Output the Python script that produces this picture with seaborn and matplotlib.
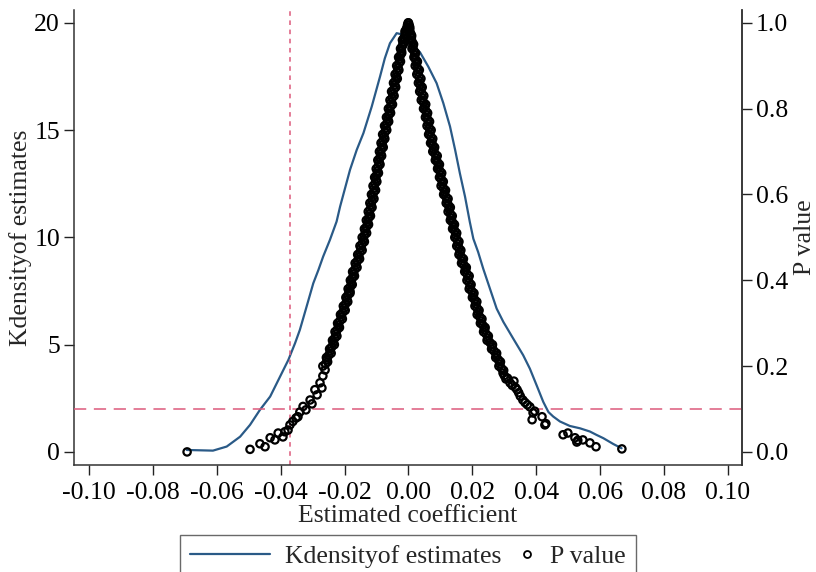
import matplotlib
matplotlib.use("Agg")
import matplotlib.pyplot as plt
import seaborn as sns
import pandas as pd
from matplotlib.lines import Line2D
from matplotlib.legend_handler import HandlerLine2D

# kernel density of the placebo estimates
kde_x = [-0.0694, -0.0612, -0.0569, -0.0527, -0.0496, -0.0465, -0.0433, -0.0402,
         -0.0376, -0.0355, -0.0340, -0.0319, -0.0298, -0.0282, -0.0267, -0.0246,
         -0.0225, -0.0214, -0.0183, -0.0162, -0.0141, -0.0115, -0.0089, -0.0074,
         -0.0058, -0.0037, -0.0017, 0.0014, 0.0036, 0.0062, 0.0088, 0.0109,
         0.0130, 0.0146, 0.0161, 0.0177, 0.0192, 0.0203, 0.0218, 0.0234,
         0.0255, 0.0276, 0.0297, 0.0328, 0.0359, 0.0380, 0.0401, 0.0422,
         0.0438, 0.0453, 0.0474, 0.0505, 0.0537, 0.0568, 0.0589, 0.0610,
         0.0641, 0.0667]
kde_y = [0.09, 0.06, 0.25, 0.71, 1.26, 1.96, 2.58, 3.51,
         4.29, 5.07, 5.69, 6.77, 7.86, 8.48, 9.11, 9.88,
         10.74, 11.44, 13.15, 14.08, 14.86, 16.10, 17.50, 18.35,
         19.05, 19.52, 19.45, 18.95, 18.63, 17.96, 17.19, 16.26,
         15.17, 14.08, 12.98, 11.90, 10.72, 9.94, 9.32, 8.54,
         7.61, 6.68, 6.06, 5.28, 4.51, 3.88, 3.11, 2.33,
         1.86, 1.65, 1.42, 1.21, 1.10, 0.95, 0.79, 0.64,
         0.37, 0.17]

# p values, left branch (coefficient < 0)
left_x = [-0.0693, -0.0496, -0.0465, -0.0449, -0.0433, -0.0418, -0.0408, -0.0393,
          -0.0387, -0.0377, -0.0371, -0.0362, -0.0352, -0.0346, -0.0340, -0.0330,
          -0.0321, -0.0308, -0.0302, -0.0293, -0.0286, -0.0277, -0.0271, -0.0268,
          -0.0261, -0.0183,
          -0.0268, -0.0253, -0.0257, -0.0242, -0.0247, -0.0232, -0.0238, -0.0224,
          -0.0230, -0.0216, -0.0222, -0.0207, -0.0213, -0.0198, -0.0204, -0.0190,
          -0.0196, -0.0183, -0.0189, -0.0176, -0.0182, -0.0169, -0.0175, -0.0161,
          -0.0167, -0.0153, -0.0159, -0.0145, -0.0152, -0.0138, -0.0145, -0.0131,
          -0.0138, -0.0125, -0.0132, -0.0119, -0.0126, -0.0114, -0.0121, -0.0108,
          -0.0116, -0.0103, -0.0111, -0.0099, -0.0106, -0.0094, -0.0101, -0.0089,
          -0.0096, -0.0084, -0.0091, -0.0079, -0.0086, -0.0074, -0.0081, -0.0068,
          -0.0075, -0.0062, -0.0069, -0.0056, -0.0063, -0.0050, -0.0058, -0.0045,
          -0.0053, -0.0040, -0.0047, -0.0035, -0.0042, -0.0030, -0.0037, -0.0025,
          -0.0031, -0.0021, -0.0025, -0.0016, -0.0019, -0.0010, -0.0011, -0.0004,
          -0.0001,
          -0.0260, -0.0255, -0.0250, -0.0245, -0.0240, -0.0235, -0.0231, -0.0227,
          -0.0223, -0.0219, -0.0215, -0.0210, -0.0206, -0.0201, -0.0197, -0.0193,
          -0.0190, -0.0186, -0.0182, -0.0179, -0.0176, -0.0172, -0.0168, -0.0164,
          -0.0160, -0.0156, -0.0152, -0.0149, -0.0145, -0.0141, -0.0138, -0.0135,
          -0.0131, -0.0128, -0.0125, -0.0122, -0.0120, -0.0117, -0.0114, -0.0112,
          -0.0109, -0.0107, -0.0105, -0.0102, -0.0100, -0.0097, -0.0095, -0.0092,
          -0.0090, -0.0087, -0.0085, -0.0082, -0.0080, -0.0077, -0.0074, -0.0071,
          -0.0068, -0.0065, -0.0062, -0.0059, -0.0056, -0.0054, -0.0051, -0.0049,
          -0.0046, -0.0043, -0.0041, -0.0038, -0.0036, -0.0033, -0.0030, -0.0028,
          -0.0025, -0.0022, -0.0020, -0.0017, -0.0014, -0.0010, -0.0007, -0.0003]
left_p = [0.000, 0.006, 0.019, 0.012, 0.033, 0.028, 0.044, 0.035,
          0.047, 0.051, 0.063, 0.071, 0.079, 0.082, 0.093, 0.106,
          0.098, 0.121, 0.112, 0.145, 0.133, 0.161, 0.149, 0.177,
          0.191, 0.374,
          0.20, 0.21, 0.22, 0.23, 0.24, 0.25, 0.26, 0.27,
          0.28, 0.29, 0.30, 0.31, 0.32, 0.33, 0.34, 0.35,
          0.36, 0.37, 0.38, 0.39, 0.40, 0.41, 0.42, 0.43,
          0.44, 0.45, 0.46, 0.47, 0.48, 0.49, 0.50, 0.51,
          0.52, 0.53, 0.54, 0.55, 0.56, 0.57, 0.58, 0.59,
          0.60, 0.61, 0.62, 0.63, 0.64, 0.65, 0.66, 0.67,
          0.68, 0.69, 0.70, 0.71, 0.72, 0.73, 0.74, 0.75,
          0.76, 0.77, 0.78, 0.79, 0.80, 0.81, 0.82, 0.83,
          0.84, 0.85, 0.86, 0.87, 0.88, 0.89, 0.90, 0.91,
          0.92, 0.93, 0.94, 0.95, 0.96, 0.97, 0.98, 0.99,
          1.00,
          0.205, 0.215, 0.225, 0.235, 0.245, 0.255, 0.265, 0.275,
          0.285, 0.295, 0.305, 0.315, 0.325, 0.335, 0.345, 0.355,
          0.365, 0.375, 0.385, 0.395, 0.405, 0.415, 0.425, 0.435,
          0.445, 0.455, 0.465, 0.475, 0.485, 0.495, 0.505, 0.515,
          0.525, 0.535, 0.545, 0.555, 0.565, 0.575, 0.585, 0.595,
          0.605, 0.615, 0.625, 0.635, 0.645, 0.655, 0.665, 0.675,
          0.685, 0.695, 0.705, 0.715, 0.725, 0.735, 0.745, 0.755,
          0.765, 0.775, 0.785, 0.795, 0.805, 0.815, 0.825, 0.835,
          0.845, 0.855, 0.865, 0.875, 0.885, 0.895, 0.905, 0.915,
          0.925, 0.935, 0.945, 0.955, 0.965, 0.975, 0.985, 0.995]

# p values, right branch (coefficient > 0)
right_x = [0.0000, 0.0004, 0.0003, 0.0010, 0.0007, 0.0016, 0.0011, 0.0022,
           0.0017, 0.0028, 0.0021, 0.0034, 0.0026, 0.0039, 0.0031, 0.0043,
           0.0035, 0.0048, 0.0040, 0.0054, 0.0047, 0.0060, 0.0053, 0.0066,
           0.0058, 0.0071, 0.0063, 0.0076, 0.0069, 0.0082, 0.0076, 0.0090,
           0.0084, 0.0097, 0.0091, 0.0104, 0.0097, 0.0109, 0.0102, 0.0116,
           0.0110, 0.0124, 0.0118, 0.0131, 0.0124, 0.0137, 0.0131, 0.0144,
           0.0138, 0.0151, 0.0145, 0.0158, 0.0151, 0.0164, 0.0158, 0.0172,
           0.0166, 0.0181, 0.0176, 0.0190, 0.0183, 0.0196, 0.0190, 0.0205,
           0.0200, 0.0214, 0.0208, 0.0221, 0.0215, 0.0230, 0.0225, 0.0240,
           0.0235, 0.0250, 0.0246, 0.0263, 0.0260, 0.0276, 0.0273, 0.0288,
           0.0283, 0.0298,
           0.0002, 0.0004, 0.0007, 0.0009, 0.0012, 0.0014, 0.0017, 0.0020,
           0.0022, 0.0025, 0.0028, 0.0030, 0.0033, 0.0035, 0.0037, 0.0039,
           0.0042, 0.0044, 0.0047, 0.0051, 0.0054, 0.0057, 0.0060, 0.0062,
           0.0065, 0.0067, 0.0070, 0.0073, 0.0076, 0.0079, 0.0083, 0.0087,
           0.0091, 0.0094, 0.0098, 0.0101, 0.0103, 0.0106, 0.0109, 0.0113,
           0.0117, 0.0121, 0.0125, 0.0128, 0.0131, 0.0134, 0.0138, 0.0141,
           0.0145, 0.0148, 0.0152, 0.0155, 0.0158, 0.0161, 0.0165, 0.0169,
           0.0174, 0.0179, 0.0183, 0.0187, 0.0190, 0.0193, 0.0198, 0.0203,
           0.0207, 0.0211, 0.0215, 0.0218, 0.0223, 0.0228, 0.0233, 0.0238,
           0.0243, 0.0248, 0.0255, 0.0262, 0.0268, 0.0275, 0.0281, 0.0286,
           0.0291,
           0.0296, 0.0300, 0.0305, 0.0310, 0.0318, 0.0325, 0.0330, 0.0335,
           0.0340, 0.0345, 0.0350, 0.0358, 0.0365, 0.0372, 0.0380, 0.0390,
           0.0395, 0.0387, 0.0418, 0.0427, 0.0430, 0.0484, 0.0499, 0.0521,
           0.0527, 0.0530, 0.0546, 0.0568, 0.0587, 0.0668]
right_p = [1.00, 0.99, 0.98, 0.97, 0.96, 0.95, 0.94, 0.93,
           0.92, 0.91, 0.90, 0.89, 0.88, 0.87, 0.86, 0.85,
           0.84, 0.83, 0.82, 0.81, 0.80, 0.79, 0.78, 0.77,
           0.76, 0.75, 0.74, 0.73, 0.72, 0.71, 0.70, 0.69,
           0.68, 0.67, 0.66, 0.65, 0.64, 0.63, 0.62, 0.61,
           0.60, 0.59, 0.58, 0.57, 0.56, 0.55, 0.54, 0.53,
           0.52, 0.51, 0.50, 0.49, 0.48, 0.47, 0.46, 0.45,
           0.44, 0.43, 0.42, 0.41, 0.40, 0.39, 0.38, 0.37,
           0.36, 0.35, 0.34, 0.33, 0.32, 0.31, 0.30, 0.29,
           0.28, 0.27, 0.26, 0.25, 0.24, 0.23, 0.22, 0.21,
           0.20, 0.19,
           0.995, 0.985, 0.975, 0.965, 0.955, 0.945, 0.935, 0.925,
           0.915, 0.905, 0.895, 0.885, 0.875, 0.865, 0.855, 0.845,
           0.835, 0.825, 0.815, 0.805, 0.795, 0.785, 0.775, 0.765,
           0.755, 0.745, 0.735, 0.725, 0.715, 0.705, 0.695, 0.685,
           0.675, 0.665, 0.655, 0.645, 0.635, 0.625, 0.615, 0.605,
           0.595, 0.585, 0.575, 0.565, 0.555, 0.545, 0.535, 0.525,
           0.515, 0.505, 0.495, 0.485, 0.475, 0.465, 0.455, 0.445,
           0.435, 0.425, 0.415, 0.405, 0.395, 0.385, 0.375, 0.365,
           0.355, 0.345, 0.335, 0.325, 0.315, 0.305, 0.295, 0.285,
           0.275, 0.265, 0.255, 0.245, 0.235, 0.225, 0.215, 0.205,
           0.195,
           0.184, 0.178, 0.170, 0.172, 0.161, 0.155, 0.165, 0.150,
           0.145, 0.138, 0.130, 0.121, 0.115, 0.110, 0.105, 0.091,
           0.095, 0.075, 0.082, 0.063, 0.066, 0.040, 0.044, 0.033,
           0.023, 0.027, 0.028, 0.021, 0.012, 0.007]

true_coef = -0.037
p_cut = 0.1

x_ticks = [-0.10, -0.08, -0.06, -0.04, -0.02, 0.00, 0.02, 0.04, 0.06, 0.08, 0.10]
x_labels = ["-0.10", "-0.08", "-0.06", "-0.04", "-0.02", "0.00", "0.02", "0.04", "0.06", "0.08", "0.10"]
yl_ticks = [0, 5, 10, 15, 20]
yr_ticks = [0.0, 0.2, 0.4, 0.6, 0.8, 1.0]
yr_labels = ["0.0", "0.2", "0.4", "0.6", "0.8", "1.0"]

sns.set_style("ticks")
plt.rcParams["font.family"] = ["Liberation Serif", "DejaVu Serif"]
plt.rcParams["font.size"] = 18.5

kde_color = "#2a5a87"
ref_color = "#dc5a7c"

kde = pd.DataFrame({"coef": kde_x, "density": kde_y})
pv = pd.DataFrame({"coef": left_x + right_x, "p": left_p + right_p})

fig = plt.figure(figsize=(8.16, 5.72), dpi=100)
ax = fig.add_axes([74 / 816, 107 / 572, 668 / 816, 455 / 572])
ax2 = ax.twinx()

sns.lineplot(data=kde, x="coef", y="density", sort=False, ax=ax,
             color=kde_color, linewidth=1.6)
sns.scatterplot(data=pv, x="coef", y="p", ax=ax2, marker="o", s=28,
                facecolors="none", edgecolor="black", linewidth=1.6, zorder=3)

ax.axvline(true_coef, color=ref_color, linewidth=1.1, linestyle=(0, (3, 3)))
ax2.axhline(p_cut, color=ref_color, linewidth=1.1, linestyle=(0, (8, 5)))

ax.set_xlim(-0.1047, 0.1044)
ax.set_ylim(-0.61, 20.6)
ax2.set_ylim(-0.0305, 1.03)

ax.set_xticks(x_ticks)
ax.set_xticklabels(x_labels)
ax.set_yticks(yl_ticks)
ax2.set_yticks(yr_ticks)
ax2.set_yticklabels(yr_labels)

for a in (ax, ax2):
    a.tick_params(direction="out", length=7, width=1, colors="#222222",
                  labelcolor="black", pad=3)
    a.spines["top"].set_visible(False)
    for s in a.spines.values():
        s.set_linewidth(1.1)
        s.set_color("#333333")
ax.tick_params(axis="x", pad=5)
ax2.spines["left"].set_visible(False)
ax2.spines["bottom"].set_visible(False)

ax.set_xlabel("Estimated coefficient", labelpad=1)
ax.set_ylabel("Kdensityof estimates", labelpad=2)
ax2.set_ylabel("P value", labelpad=4)


class RightMarker(HandlerLine2D):
    def get_xdata(self, legend, xdescent, ydescent, width, height, fontsize):
        xm = -xdescent + width - 0.3 * fontsize
        return [xm - 1, xm + 1], [xm]


handles = [Line2D([], [], color=kde_color, linewidth=1.6),
           Line2D([], [], linestyle="none", marker="o", markersize=5,
                  markerfacecolor="none", markeredgecolor="black", markeredgewidth=1.3)]
leg = fig.legend(handles, ["Kdensityof estimates", "P value"], ncol=2,
                 loc="upper center", bbox_to_anchor=(0.5, 37 / 572),
                 borderaxespad=0, frameon=True, fancybox=False, edgecolor="#444444",
                 handlelength=3.1, handletextpad=0.6, columnspacing=-1.8,
                 borderpad=0.4, numpoints=1,
                 handler_map={handles[1]: RightMarker(numpoints=1)})
leg.get_frame().set_linewidth(1.0)

fig.savefig("out.png", dpi=100)
